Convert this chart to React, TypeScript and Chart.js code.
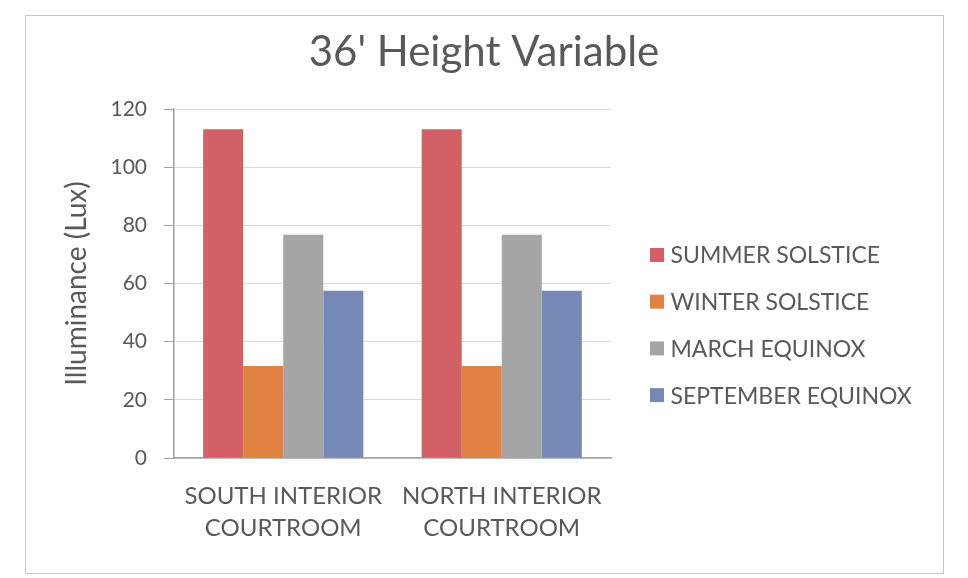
import { useEffect, useRef } from "react";
import { Chart, registerables } from "chart.js";
Chart.register(...registerables);

const chartTitle = "36' Height Variable";
const yAxisTitle = "Illuminance (Lux)";
const categories = [["SOUTH INTERIOR", "COURTROOM"], ["NORTH INTERIOR", "COURTROOM"]];
const seriesNames = ["SUMMER SOLSTICE", "WINTER SOLSTICE", "MARCH EQUINOX", "SEPTEMBER EQUINOX"];
const summerSolstice = [113, 113];
const winterSolstice = [31.6, 31.6];
const marchEquinox = [76.8, 76.8];
const septemberEquinox = [57.5, 57.5];
const seriesColors = ["#d36064", "#e08242", "#a5a5a5", "#7688b6"];
const yMin = 0;
const yMax = 120;
const yStep = 20;

const FONT = "Lato, 'Open Sans', sans-serif";
const TEXT = "#595959";

export default function App() {
  const ref = useRef<HTMLCanvasElement>(null);
  useEffect(() => {
    const canvas = ref.current!;
    const values = [summerSolstice, winterSolstice, marchEquinox, septemberEquinox];
    const overlay = {
      id: "overlay",
      afterDraw(chart: any) {
        const ctx = chart.ctx;
        const area = chart.chartArea;
        ctx.save();
        ctx.fillStyle = TEXT;
        ctx.textAlign = "center";
        ctx.textBaseline = "middle";
        ctx.font = `42px ${FONT}`;
        ctx.fillText(chartTitle, chart.width / 2, 52);
        ctx.font = `23px ${FONT}`;
        ctx.textAlign = "left";
        chart.data.datasets.forEach((ds: any, i: number) => {
          const cy = area.top + 146 + i * 46.7;
          const bx = area.right + 39;
          ctx.fillStyle = ds.backgroundColor;
          ctx.fillRect(bx, cy - 7, 14, 14);
          ctx.fillStyle = TEXT;
          ctx.fillText(ds.label, bx + 20.5, cy + 1);
        });
        ctx.restore();
      },
    };
    const chart = new Chart(canvas, {
      type: "bar",
      data: {
        labels: categories,
        datasets: seriesNames.map((name, i) => ({
          label: name,
          data: values[i],
          backgroundColor: seriesColors[i],
          borderWidth: 0,
          barPercentage: 1,
          categoryPercentage: 0.733,
        })),
      },
      options: {
        responsive: false,
        animation: false,
        layout: { padding: { top: 109, left: 60, right: 357, bottom: 0 } },
        plugins: { legend: { display: false }, title: { display: false }, tooltip: { enabled: false } },
        scales: {
          x: {
            grid: { display: false, drawTicks: false },
            border: { display: true, color: "#a0a0a0", width: 1.5 },
            ticks: { color: TEXT, font: { family: FONT, size: 24, lineHeight: 1.3 }, padding: 23, maxRotation: 0 },
            afterFit(scale: any) { scale.height = 120; },
          },
          y: {
            min: yMin,
            max: yMax,
            ticks: { stepSize: yStep, color: TEXT, font: { family: FONT, size: 21 }, padding: 17 },
            grid: { color: "#d9d9d9", lineWidth: 1, tickColor: "#a0a0a0", tickLength: 10 },
            border: { display: true, color: "#a0a0a0", width: 1.5 },
            title: { display: true, text: yAxisTitle, color: TEXT, font: { family: FONT, size: 28 }, padding: 0 },
            afterFit(scale: any) { scale.width = 114; },
          },
        },
      },
      plugins: [overlay],
    });
    return () => chart.destroy();
  }, []);
  return (
    <div style={{ position: "fixed", left: 0, top: 0, width: 968, height: 578, background: "#fff" }}>
      <canvas ref={ref} width={968} height={578} style={{ position: "absolute", left: 0, top: 0 }} />
      <div style={{ position: "absolute", left: 25, top: 15, width: 917, height: 557, border: "1px solid #c6c6c6", pointerEvents: "none" }} />
    </div>
  );
}
